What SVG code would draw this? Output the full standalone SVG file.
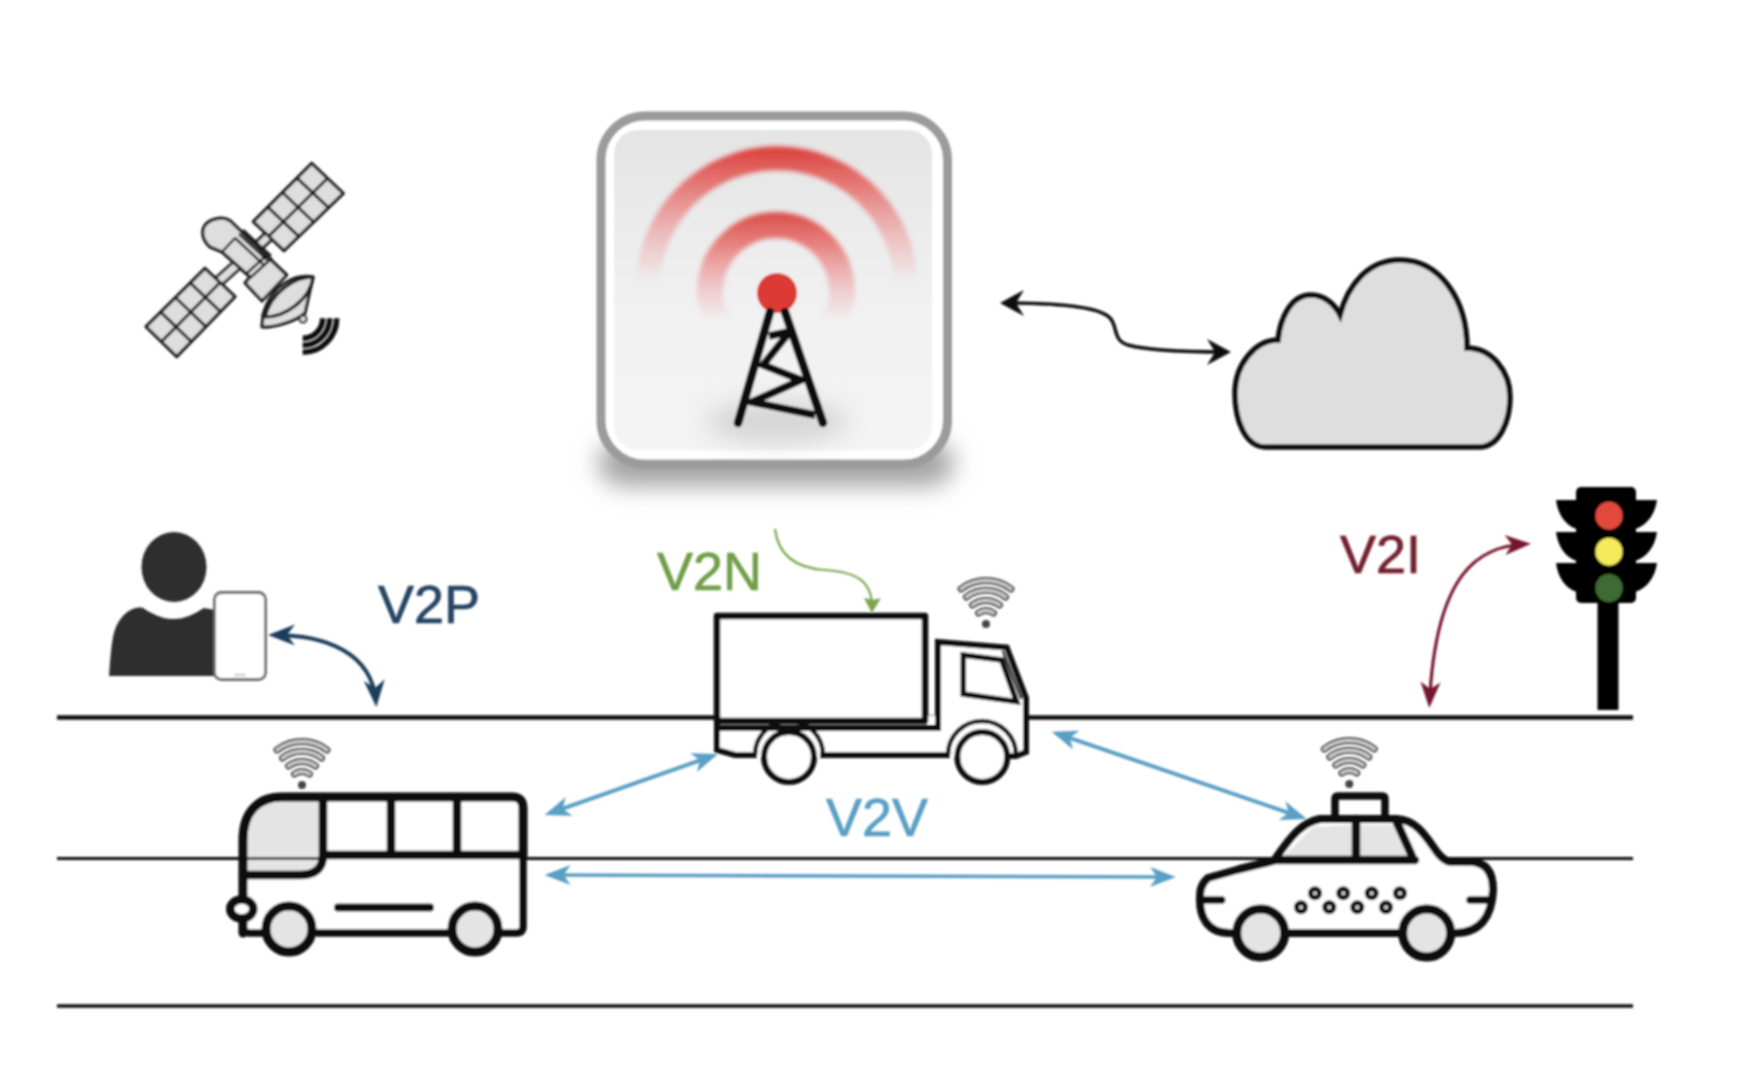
<svg xmlns="http://www.w3.org/2000/svg" xmlns:xlink="http://www.w3.org/1999/xlink" width="1738" height="1084" viewBox="0 0 1738 1084">
<style>
text{font-family:"Liberation Sans",Arial,sans-serif;font-size:54px;stroke-width:.7}
.road{stroke:#111;fill:none}
.k{fill:none;stroke:#0a0a0a;stroke-linecap:round;stroke-linejoin:round}
.sat{stroke:#1c1c1c;stroke-width:3.2;fill:#dedede;stroke-linejoin:round}
.satl{stroke:#1c1c1c;stroke-width:3;fill:none}
.wheel{fill:#e4e4e4;stroke:#0a0a0a;stroke-width:9}
.glass{fill:#e4e4e4}
.dot{fill:#d8d8d8;stroke:#111;stroke-width:5}
.conn{fill:none}
</style>
<defs>
<filter id="soft" x="-2%" y="-2%" width="104%" height="104%"><feGaussianBlur stdDeviation="1.1"/></filter>
<filter id="blur" x="-30%" y="-60%" width="160%" height="220%"><feGaussianBlur stdDeviation="12"/></filter>
<filter id="arcblur" x="-40%" y="-40%" width="180%" height="180%"><feGaussianBlur stdDeviation="2.2"/></filter>
<linearGradient id="panel" x1="0" y1="0" x2="0" y2="1"><stop offset="0" stop-color="#e4e4e4"/><stop offset="0.6" stop-color="#f2f2f3"/><stop offset="1" stop-color="#f4f4f4"/></linearGradient>
<linearGradient id="arcO" gradientUnits="userSpaceOnUse" x1="0" y1="146" x2="0" y2="282"><stop offset="0" stop-color="#dc3c38"/><stop offset="0.3" stop-color="#e46a66" stop-opacity=".85"/><stop offset="0.7" stop-color="#e88" stop-opacity=".4"/><stop offset="1" stop-color="#e88" stop-opacity="0"/></linearGradient>
<linearGradient id="arcI" gradientUnits="userSpaceOnUse" x1="0" y1="212" x2="0" y2="322"><stop offset="0" stop-color="#dc4a46"/><stop offset="0.3" stop-color="#e46a66" stop-opacity=".8"/><stop offset="0.7" stop-color="#e88" stop-opacity=".35"/><stop offset="1" stop-color="#e88" stop-opacity="0"/></linearGradient>
<marker id="hk" markerUnits="userSpaceOnUse" markerWidth="60" markerHeight="60" viewBox="-40 -30 60 60" refX="0" refY="0" orient="auto-start-reverse"><path d="M5,0 L-19,-13 L-11,0 L-19,13Z" fill="#0a0a0a"/></marker>
<marker id="hb" markerUnits="userSpaceOnUse" markerWidth="60" markerHeight="60" viewBox="-40 -30 60 60" refX="0" refY="0" orient="auto-start-reverse"><path d="M5,0 L-21,-10 L-14,0 L-21,10Z" fill="#5a9fc4"/></marker>
<marker id="hn" markerUnits="userSpaceOnUse" markerWidth="60" markerHeight="60" viewBox="-40 -30 60 60" refX="0" refY="0" orient="auto-start-reverse"><path d="M5,0 L-22,-10.500 L-14,0 L-22,10.500Z" fill="#1f3d5c"/></marker>
<marker id="hm" markerUnits="userSpaceOnUse" markerWidth="60" markerHeight="60" viewBox="-40 -30 60 60" refX="0" refY="0" orient="auto-start-reverse"><path d="M5,0 L-21,-10 L-14,0 L-21,10Z" fill="#74192d"/></marker>
<marker id="hg" markerUnits="userSpaceOnUse" markerWidth="60" markerHeight="60" viewBox="-40 -30 60 60" refX="0" refY="0" orient="auto"><path d="M4,0 L-11,-8.500 L-9,0 L-11,8.500Z" fill="#7aa650"/></marker>
<g id="wifi">
<g fill="none" stroke="#4f4f4f" stroke-width="7" stroke-linecap="round"><path d="M-7.500,-15A13,13 0 0 1 7.500,-15M-13.500,-23A22.500,22.500 0 0 1 13.500,-23M-19.500,-31A32,32 0 0 1 19.500,-31M-25,-39A41.500,41.500 0 0 1 25,-39"/></g>
<g fill="none" stroke="#d2d2d2" stroke-width="3" stroke-linecap="round"><path d="M-7.500,-15A13,13 0 0 1 7.500,-15M-13.500,-23A22.500,22.500 0 0 1 13.500,-23M-19.500,-31A32,32 0 0 1 19.500,-31M-25,-39A41.500,41.500 0 0 1 25,-39"/></g>
<circle cx="0" cy="-4" r="4" fill="#444"/>
</g>
</defs>
<rect width="1738" height="1084" fill="#fff"/>
<g filter="url(#soft)">
<g id="roads" class="road">
<line x1="57" y1="717.5" x2="1633" y2="717.5" stroke-width="4.500"/>
<line x1="57" y1="858.5" x2="1633" y2="858.5" stroke-width="3"/>
<line x1="57" y1="1006" x2="1633" y2="1006" stroke-width="3.500"/>
</g>
<g id="satellite">
<path d="M238,264L218,282M271,234L255,249" stroke="#1c1c1c" stroke-width="12" fill="none"/>
<path d="M238,264L218,282M271,234L255,249" stroke="#dedede" stroke-width="6.500" fill="none"/>
<path class="sat" d="M311.700,163.300L343.300,193.300L284,250.700L253.300,221.700Z"/>
<path class="satl" d="M327.500,178.300L268.700,236.200M296.800,177.900L328.500,207.700M282.500,192.500L313.650,222M267.900,207.100L298.800,236.400"/>
<path class="sat" d="M205,268.300L235,296.700L176.700,356.700L146,326.700Z"/>
<path class="satl" d="M220,282.500L161.350,341.700M190.250,282.900L220.400,311.700M175.500,297.500L205.850,326.700M160.750,312.100L191.300,341.700"/>
<path class="sat" d="M230,220.700L286.700,275L262,301L245,283L250,277L222,252L210,247C200,238 200,225 212,220C220,217 226,218 230,220.700Z"/>
<path class="satl" style="stroke-width:2.500" d="M222,252L235,238M235,238L263,264M239,234L267,260M243,230L271,256M246,274L268,254M250,278L272,258"/>
<path class="sat" d="M313,277C298,274 272,282 263,315L262,327C272,328 295,322 305,313Z"/>
<path class="sat" d="M313,277C295,277 271,292 265,317C285,317 310,300 313,277Z"/>
<circle cx="303" cy="319" r="3.500" fill="#dedede" stroke="#222" stroke-width="2"/>
<path d="M322.700,318.300A20,20 0 0 1 302.700,338.300M329.700,318.300A27,27 0 0 1 302.700,345.300M336.700,318.300A34,34 0 0 1 302.700,352.300" fill="none" stroke="#0a0a0a" stroke-width="5.500"/>
</g>
<g id="tower">
<rect x="598" y="440" width="356" height="46" rx="28" fill="#a2a2a2" filter="url(#blur)"/>
<rect x="601" y="116" width="346.500" height="348" rx="44" fill="#fff" stroke="#9b9b9b" stroke-width="9"/>
<rect x="614" y="130" width="318" height="320" rx="24" fill="url(#panel)"/>
<ellipse cx="777" cy="422" rx="72" ry="22" fill="#bdbdbd" opacity=".55" filter="url(#blur)"/>
<path d="M648.300,296A129,129 0 1 1 905.700,296" fill="none" stroke="url(#arcO)" stroke-width="24" filter="url(#arcblur)"/>
<path d="M720,326A66,66 0 1 1 832,326" fill="none" stroke="url(#arcI)" stroke-width="26" filter="url(#arcblur)"/>
<circle cx="777" cy="293" r="20" fill="#dc3b35"/>
<path d="M770,312L738,423M785,312L823,423" fill="none" stroke="#080808" stroke-width="8.500" stroke-linecap="round"/>
<path d="M769,336L788,332M788,334L763,365L801,380L752,402L815,415" fill="none" stroke="#080808" stroke-width="7.500" stroke-linejoin="miter"/>
</g>
<g id="cloud">
<path d="M1266,447L1479,447C1500,447 1510,420 1510,397C1510,372 1492,348 1467,348C1467,300 1440,260 1400,260C1368,260 1348,285 1340,315C1335,305 1325,295 1311,295C1290,295 1280,320 1278,340C1255,340 1235,365 1235,393C1235,420 1245,447 1266,447Z" fill="#dedede" stroke="#0a0a0a" stroke-width="5.500"/>
</g>
<g id="traffic-light">
<rect x="1597.500" y="600" width="21" height="110" fill="#060606"/>
<rect x="1576" y="487" width="60" height="116" rx="5" fill="#060606"/>
<path d="M1577,500H1556C1558,515 1566,526 1577,529ZM1577,532H1556C1558,547 1566,558 1577,561ZM1577,563H1556C1558,578 1566,589 1577,592ZM1635,500H1657C1655,515 1646,526 1635,529ZM1635,532H1657C1655,547 1646,558 1635,561ZM1635,563H1657C1655,578 1646,589 1635,592Z" fill="#060606"/>
<ellipse cx="1609" cy="515.700" rx="13.500" ry="14" fill="#e24a3c"/>
<ellipse cx="1609" cy="551.700" rx="13.500" ry="14" fill="#f5e95c"/>
<ellipse cx="1609" cy="588" rx="13.500" ry="14" fill="#3f6b35"/>
</g>
<g id="pedestrian">
<ellipse cx="174" cy="567" rx="32.500" ry="35" fill="#2d2d2d"/>
<path d="M109,676C111,650 112,632 118,623C124,612 135,606 143,608C152,614 162,619 173,619C185,619 195,614 203.500,608L216,610L216,676Z" fill="#2d2d2d"/>
<rect x="214.500" y="592.500" width="51" height="87" rx="7" fill="#fff" stroke="#6a6a6a" stroke-width="2.800"/>
<line x1="234" y1="675" x2="246" y2="675" stroke="#c8c8c8" stroke-width="2"/>
</g>
<g id="bus">
<path d="M243,933V840C243,812 258,797 282,797H512Q523,797 523,808V926Q523,933 516,933H250Z" fill="#fff"/>
<path class="glass" d="M243,843C243,812 258,797 282,797H323V855Q323,875 300,875H243Z"/>
<line x1="243" y1="858.500" x2="323" y2="858.500" stroke="#222" stroke-width="2.500"/>
<path class="k" stroke-width="9" d="M243,933V840C243,812 258,797 282,797H512Q523,797 523,808V855"/>
<path class="k" stroke-width="7.500" d="M523,855V926Q523,933 516,933H498M450,933H318M264,933H250Q243,933 243,926"/>
<path class="k" stroke-width="8.500" d="M243,875H300Q323,875 323,855H523M323,797V855M391,797V855M457,797V855"/>
<path class="k" stroke-width="8" d="M338,907.500H430"/>
<ellipse cx="241.800" cy="909" rx="11.500" ry="9.500" fill="#fff" stroke="#0a0a0a" stroke-width="8.500"/>
<circle class="wheel" cx="289" cy="929" r="23"/>
<circle class="wheel" cx="475" cy="929" r="23"/>
<use href="#wifi" xlink:href="#wifi" x="302" y="789"/>
</g>
<g id="truck">
<path d="M940,642L1006,647L1026,698V752L1016,756H735L717,750V725H940Z" fill="#fff"/>
<rect x="717" y="616" width="208" height="105" fill="#fff"/>
<rect x="928" y="716" width="8" height="8" fill="#fff"/>
<path class="k" stroke-width="6.500" style="stroke-linecap:butt" d="M717,616H925V721H717Z"/>
<path class="k" stroke-width="6" style="stroke-linecap:butt;stroke-linejoin:miter" d="M717,728H938V642L1006.700,647.500L1026,698V752L1016,756H1010M950,755H820M757,755H735L717,750V721"/>
<path class="k" stroke-width="5.500" style="stroke-linecap:butt;stroke-linejoin:miter" d="M963.300,655L1001.700,660L1016.700,701.700L963.300,694Z"/>
<path class="k" stroke-width="2.500" d="M1003,652L1021,698"/>
<path class="k" stroke-width="4.500" style="stroke-linecap:butt" d="M755,755A34,34 0 0 1 823,755M948,755A34,34 0 0 1 1016,755"/>
<circle cx="789" cy="757" r="25" fill="#fff" stroke="#0a0a0a" stroke-width="6"/>
<circle cx="982.300" cy="757" r="25" fill="#fff" stroke="#0a0a0a" stroke-width="6"/>
<use href="#wifi" xlink:href="#wifi" x="986" y="628"/>
</g>
<g id="taxi">
<path d="M1276.700,861.700L1208,878C1200,885 1200,892 1200,900C1200,915 1206,933 1230,933H1455C1480,933 1491.700,917 1493,890C1493,875 1488,862 1470,861.700H1443L1436.700,851.700C1425,835 1416,820 1396.700,819H1320C1302,822 1290,838 1276.700,856.700Z" fill="#fff"/>
<path class="glass" d="M1283,857L1313,827L1353,825V857ZM1360,825L1393,825L1407,857H1360Z"/>
<path class="k" stroke-width="8" d="M1240,869L1208,878C1200,885 1200,892 1200,900C1200,915 1206,933 1230,933H1234M1288,933H1400M1452,933H1455C1480,933 1491.700,917 1493,890C1493,875 1488,862 1470,861.700H1450C1444,861 1440,856 1436.700,851.700C1425,835 1416,820 1396.700,819H1320C1302,822 1290,838 1276.700,856.700"/>
<path class="k" stroke-width="8.500" d="M1240,869L1276,860H1415M1356,819V860M1396.700,822L1412,856"/>
<path class="k" stroke-width="7.500" d="M1335,819V799Q1335,796 1338,796H1382Q1385,796 1385,799V819M1205,900H1221.700M1470,900H1491"/>
<circle class="wheel" cx="1260.700" cy="933" r="24"/>
<circle class="wheel" cx="1426.700" cy="933" r="24"/>
<circle class="dot" cx="1315" cy="893.300" r="4.500"/><circle class="dot" cx="1343.300" cy="893.300" r="4.500"/><circle class="dot" cx="1371.700" cy="893.300" r="4.500"/><circle class="dot" cx="1400" cy="893.300" r="4.500"/>
<circle class="dot" cx="1301" cy="907.300" r="4.500"/><circle class="dot" cx="1329.300" cy="907.300" r="4.500"/><circle class="dot" cx="1357.300" cy="907.300" r="4.500"/><circle class="dot" cx="1386" cy="907.300" r="4.500"/>
<use href="#wifi" xlink:href="#wifi" x="1349.300" y="788"/>
</g>
<g id="connectors" class="conn">
<path stroke="#0a0a0a" stroke-width="3.500" marker-start="url(#hk)" marker-end="url(#hk)" d="M1005,303C1045,303 1098,305 1110,318C1118,326 1112,340 1128,345C1150,351 1190,352 1226,352"/>
<path stroke="#1f3d5c" stroke-width="4" marker-start="url(#hn)" marker-end="url(#hn)" d="M273,635C325,635 372,652 376,702"/>
<path stroke="#7aa650" stroke-width="2.200" marker-end="url(#hg)" d="M775,529C778,555 795,568 825,570C855,572 873,580 872,609"/>
<path stroke="#74192d" stroke-width="3.200" marker-start="url(#hm)" marker-end="url(#hm)" d="M1526,544C1480,546 1436,570 1429.500,703"/>
<path stroke="#5a9fc4" stroke-width="4" marker-start="url(#hb)" marker-end="url(#hb)" d="M549.300,813.300L713.300,755.700"/>
<path stroke="#5a9fc4" stroke-width="4" marker-start="url(#hb)" marker-end="url(#hb)" d="M1056.400,733.300L1302,817.400"/>
<path stroke="#5a9fc4" stroke-width="3.500" marker-start="url(#hb)" marker-end="url(#hb)" d="M549.600,875L1171,877"/>
</g>
<g id="labels">
<text x="378" y="623" fill="#254463" stroke="#254463">V2P</text>
<text x="657" y="590" fill="#6f9e46" stroke="#6f9e46">V2N</text>
<text x="826" y="836" fill="#5a9fc4" stroke="#5a9fc4">V2V</text>
<text x="1340" y="572.500" fill="#72202f" stroke="#72202f">V2I</text>
</g>
</g>
</svg>
